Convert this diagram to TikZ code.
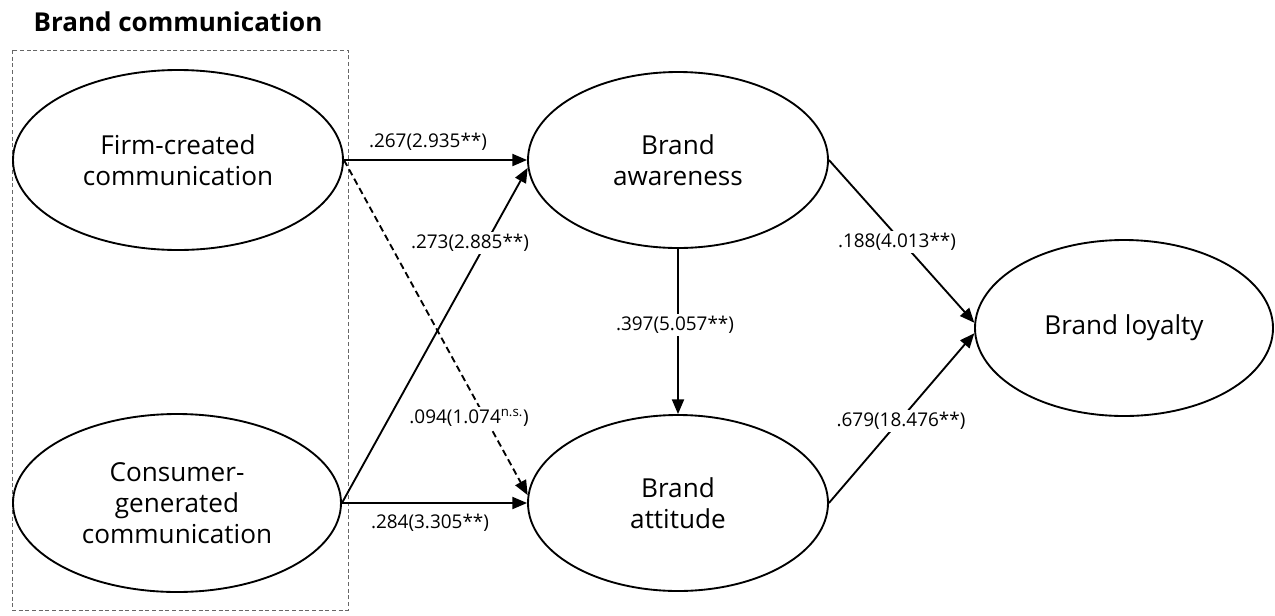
\documentclass[tikz,border=0pt]{standalone}
\usepackage{fontspec}
\setmainfont{Open Sans}
\usetikzlibrary{shapes.geometric,arrows.meta}
\begin{document}
\begin{tikzpicture}[x=0.75pt,y=-0.75pt,
  latent/.style={draw,line width=1.4pt,ellipse,inner sep=0pt,align=center,font=\fontsize{19.6}{23.5}\selectfont},
  path/.style={line width=1.4pt,-{Triangle[length=11pt,width=9pt]}},
  dpath/.style={path,dash pattern=on 5pt off 3pt},
  coef/.style={font=\fontsize{14.2}{16}\selectfont,inner sep=2pt},
  coefw/.style={coef,fill=white}]
\useasboundingbox (0,0) rectangle (1275,615);
\node[font=\bfseries\fontsize{19.5}{23}\selectfont] (title) at (178,22) {Brand communication};
\draw[gray!80!black,line width=0.75pt,dash pattern=on 3pt off 2pt] (12,50) rectangle (348,610);
\node[latent,minimum width=247.5pt,minimum height=135pt] (firm) at (178,160) {Firm-created\\communication};
\node[latent,minimum width=246pt,minimum height=133.5pt] (cons) at (177,503) {Consumer-\\generated\\communication};
\node[latent,minimum width=225pt,minimum height=132pt] (aw) at (678,160) {Brand\\awareness};
\node[latent,minimum width=225pt,minimum height=132pt] (att) at (678,503) {Brand\\attitude};
\node[latent,minimum width=223.5pt,minimum height=132pt] (loy) at (1124,328) {Brand loyalty};
\draw[path] (firm.east) -- (aw.west);
\draw[path] (cons.east) -- (att.west);
\draw[path] (cons.east) -- (aw.183);
\draw[dpath] (firm.east) -- (att.177);
\draw[path] (aw.south) -- (att.north);
\draw[path] (aw.east) -- (loy.178);
\draw[path] (att.east) -- (loy.182);
\node[coef] (l1) at (428,142) {.267(2.935**)};
\node[coefw] (l2) at (470,243) {.273(2.885**)};
\node[coefw] (l3) at (469,418) {.094(1.074\textsuperscript{n.s.})};
\node[coef] (l4) at (430,523) {.284(3.305**)};
\node[coefw] (l5) at (675,325) {.397(5.057**)};
\node[coefw] (l6) at (897,242) {.188(4.013**)};
\node[coefw] (l7) at (901,421) {.679(18.476**)};
\end{tikzpicture}
\end{document}
